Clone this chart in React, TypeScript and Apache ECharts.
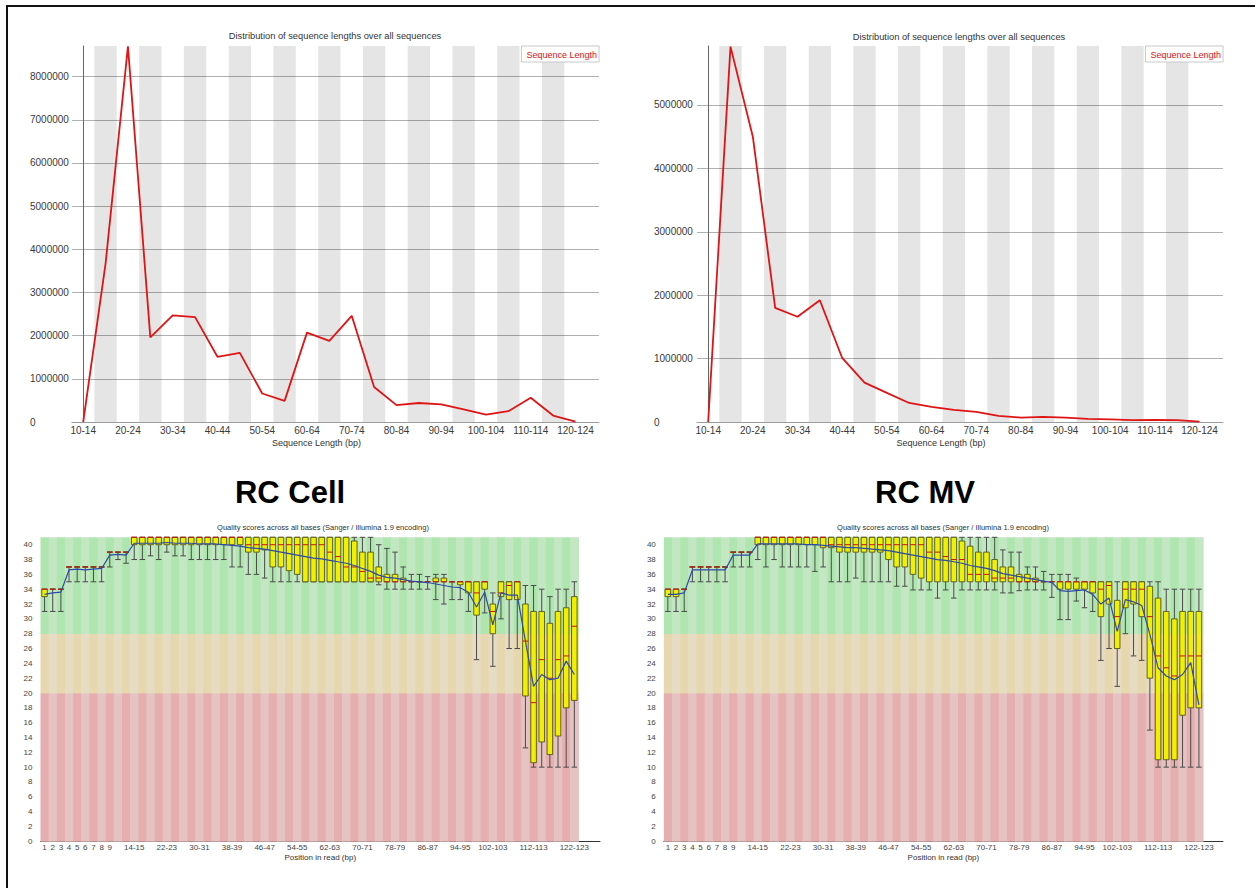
import React, { useEffect, useRef } from 'react';
import * as echarts from 'echarts';

const FONT = '"Liberation Sans", Arial, Helvetica, sans-serif';

// ---------- Sequence length distribution (top charts) ----------
const lengthCategories = [
  '10-14', '15-19', '20-24', '25-29', '30-34', '35-39', '40-44', '45-49', '50-54', '55-59',
  '60-64', '65-69', '70-74', '75-79', '80-84', '85-89', '90-94', '95-99', '100-104', '105-109',
  '110-114', '115-119', '120-124',
];
const cellLengthCounts = [
  0, 3670000, 8700000, 1960000, 2470000, 2430000, 1510000, 1600000, 660000, 490000,
  2070000, 1880000, 2460000, 810000, 390000, 440000, 410000, 290000, 170000, 250000,
  560000, 150000, 10000,
];
const mvLengthCounts = [
  0, 5920000, 4500000, 1800000, 1660000, 1920000, 1010000, 620000, 460000, 300000,
  240000, 190000, 160000, 95000, 70000, 80000, 70000, 50000, 40000, 30000,
  35000, 30000, 5000,
];
const cellLengthMax = 8710000;
const mvLengthMax = 5930000;
const lengthTickStep = 1000000;

// ---------- Per-base quality (bottom charts) ----------
const positionCategories: string[] = [];
for (let p = 1; p <= 9; p++) positionCategories.push(String(p));
for (let p = 10; p <= 122; p += 2) positionCategories.push(p + '-' + (p + 1));
const positionLabelIndices = [0, 1, 2, 3, 4, 5, 6, 7, 8, 11, 15, 19, 23, 27, 31, 35, 39, 43, 47, 51, 55, 60, 65];
const qualityBandLimits = [0, 20, 28, 41];

const cellLow = [
  31, 31, 31, 35, 35, 35, 35, 35, 37, 38, 37.5,
  38, 38, 38.5, 38, 39, 38.5, 38.5, 38, 38, 38, 38, 38, 37, 37,
  36, 36, 35.5, 35, 35, 35, 35, 35, 35, 35, 35, 35, 35, 35, 35, 35,
  34.6, 34, 34, 34, 34, 34, 34, 32.6, 32, 32.6, 32.6,
  31, 24.5, 30.8, 23.6, 30, 26, 26, 12.6, 10, 10, 10, 10, 10, 10,
];
const cellQ1 = [
  33, 34, 34, 37, 37, 37, 37, 37, 39, 39, 39,
  40, 40, 40, 40, 40, 40, 40, 40, 40, 40, 40, 40, 40, 40,
  39, 39, 39.3, 37, 37, 36.5, 36, 35, 35, 35, 35, 35, 35, 35, 35, 35,
  35, 35, 35, 35, 35, 35, 35, 35, 35, 35, 34.6,
  33.5, 30.5, 34, 28, 33, 32.6, 32.6, 19.6, 10.6, 13.4, 11.7, 14.2, 18, 19,
];
const cellMedian = [
  34, 34, 34, 37, 37, 37, 37, 37, 39, 39, 39,
  41, 41, 41, 41, 41, 41, 41, 41, 41, 41, 41, 41, 41, 41,
  40, 40, 40, 40, 40, 40, 40, 40, 40, 40, 39, 38.4, 37, 37, 36.4, 35.5,
  35.5, 35, 35, 35, 35, 35, 35, 35, 35, 35, 35,
  35, 33.5, 35, 31, 33.5, 34.5, 35, 27, 18.7, 24.5, 22, 24.5, 25, 29,
];
const cellQ3 = [
  34, 34, 34, 37, 37, 37, 37, 37, 39, 39, 39,
  41, 41, 41, 41, 41, 41, 41, 41, 41, 41, 41, 41, 41, 41,
  41, 41, 41, 41, 41, 41, 41, 41, 41, 41, 41, 41, 41, 40.5, 39, 39,
  37, 36, 36, 35.5, 35, 35, 35, 35.5, 35.5, 35, 35,
  35, 35, 35, 32, 35, 35, 35, 32, 31, 31, 29.4, 31, 31.5, 33,
];
const cellHigh = [
  34, 34, 34, 37, 37, 37, 37, 37, 39, 39, 39,
  41, 41, 41, 41, 41, 41, 41, 41, 41, 41, 41, 41, 41, 41,
  41, 41, 41, 41, 41, 41, 41, 41, 41, 41, 41, 41, 41, 41, 41, 41,
  40, 39.5, 39, 37, 36, 36, 35.7, 36, 36, 35, 35,
  35, 35, 35, 33.5, 35, 35, 35, 34.5, 34.5, 34, 33, 34, 34, 35,
];
const cellMean = [
  33.3, 33.5, 33.6, 36.6, 36.7, 36.6, 36.7, 36.8, 38.6, 38.7, 38.6,
  40.2, 40.2, 40.2, 40.2, 40.3, 40.2, 40.2, 40.2, 40.1, 40.1, 40.1, 40.0, 39.9, 39.8,
  39.6, 39.5, 39.4, 39.2, 39.0, 38.8, 38.6, 38.4, 38.2, 38.1, 37.9, 37.7, 37.5, 37.2, 36.8, 36.4,
  35.9, 35.6, 35.5, 35.3, 35.1, 35.0, 34.9, 34.7, 34.5, 34.3, 34.2,
  33.6, 31.6, 33.6, 29.2, 33.5, 33.2, 33.2, 27, 20.9, 22.5, 21.8, 22, 24.3, 22.5,
];

const mvLow = [
  31, 31, 31, 35, 35, 35, 35, 35, 37, 37, 37,
  38, 37, 38, 37, 37, 37, 37, 36.4, 37, 35, 35, 35, 35.5, 35,
  35, 35, 35, 34.4, 34.4, 33.9, 33.9, 33.9, 32.8, 33.9, 32.8, 33.9, 33.9, 33.9, 33.9, 33.9,
  33.5, 33.5, 33.8, 33.9, 33.9, 33.9, 32.9, 29.9, 29.9, 32.4, 31.5,
  31, 24.4, 26, 20.9, 28, 25, 24.4, 15, 10, 10, 10, 10, 10, 10,
];
const mvQ1 = [
  33, 33, 34, 37, 37, 37, 37, 37, 39, 39, 39,
  40, 40, 40, 40, 40, 40, 40, 40, 39.6, 39.6, 39, 39, 39, 39,
  39, 39, 38, 37, 37, 36, 35.5, 35, 35, 35, 35, 35, 35, 35, 35, 35,
  35, 35, 35, 35, 35, 35, 35, 34, 34, 34, 34,
  33.5, 30.3, 32, 26, 31.5, 32, 30.3, 22, 11, 11, 11, 17, 18, 18,
];
const mvMedian = [
  34, 34, 34, 37, 37, 37, 37, 37, 39, 39, 39,
  41, 41, 41, 41, 41, 41, 41, 41, 41, 40, 40, 40, 40, 40,
  40, 40, 40, 40, 40, 40, 40, 39, 39, 38.4, 38, 38, 36, 36, 36, 35.5,
  35.5, 35.5, 35, 35, 35, 35, 35, 35, 35, 35, 35,
  35, 34, 34.5, 30.3, 34, 34, 34, 30.3, 25, 23.4, 22.3, 25, 25, 25,
];
const mvQ3 = [
  34, 34, 34, 37, 37, 37, 37, 37, 39, 39, 39,
  41, 41, 41, 41, 41, 41, 41, 41, 41, 41, 41, 41, 41, 41,
  41, 41, 41, 41, 41, 41, 41, 41, 41, 41, 41, 40.5, 39.8, 39, 39, 38,
  37, 37, 36, 36, 35.5, 35, 35, 35, 35, 35, 35,
  35, 35, 35, 32.5, 35, 35, 35, 34.4, 32.8, 31, 30, 31, 31, 31,
];
const mvHigh = [
  34, 34, 34, 37, 37, 37, 37, 37, 39, 39, 39,
  41, 41, 41, 41, 41, 41, 41, 41, 41, 41, 41, 41, 41, 41,
  41, 41, 41, 41, 41, 41, 41, 41, 41, 41, 41, 41, 41, 41, 41, 41,
  39.3, 39, 39, 37, 37, 36.4, 36, 36, 36, 35.5, 35,
  35, 35, 35, 35, 35, 35, 35, 35, 35, 34, 34, 34, 34, 34,
];
const mvMean = [
  33.3, 33.3, 33.5, 36.6, 36.6, 36.6, 36.6, 36.6, 38.6, 38.6, 38.6,
  40.1, 40.1, 40.1, 40.1, 40.1, 40.1, 40.0, 40.0, 39.9, 39.8, 39.7, 39.6, 39.6, 39.5,
  39.4, 39.3, 39.2, 39.0, 38.8, 38.6, 38.4, 38.2, 38.0, 37.9, 37.7, 37.5, 37.2, 37.0, 36.8, 36.5,
  36.1, 35.9, 35.7, 35.5, 35.3, 35.1, 34.9, 33.8, 33.7, 33.8, 33.9,
  33.3, 32, 32.8, 28.3, 32.6, 32.3, 31.8, 27.9, 23.4, 22.3, 21.8, 22.5, 24.1, 18.4,
];

// ---------- helpers ----------
function lengthXAxis(gridIndex: number) {
  return {
    type: 'value', gridIndex, min: -0.5, max: 23.05, interval: 0.5,
    axisLine: { show: true, lineStyle: { color: '#9a9a9a', width: 1 } },
    axisTick: { show: false },
    splitLine: { show: false },
    axisLabel: {
      margin: 3, fontSize: 10, color: '#3a3a3a', fontFamily: FONT,
      formatter: (v: number) => {
        const r = Math.round(v);
        return Math.abs(v - r) < 1e-6 && r % 2 === 0 && r >= 0 && r < lengthCategories.length ? lengthCategories[r] : '';
      },
    },
    name: 'Sequence Length (bp)', nameLocation: 'middle', nameGap: 16,
    nameTextStyle: { fontSize: 9, color: '#333', fontFamily: FONT, padding: [0, 38, 0, 0] },
  };
}

function lengthYAxis(gridIndex: number, max: number, margin: number) {
  return {
    type: 'value', gridIndex, min: 0, max, interval: lengthTickStep,
    axisLine: { show: true, lineStyle: { color: '#666', width: 1 } },
    axisTick: { show: false },
    splitLine: { show: true, showMinLine: false, showMaxLine: false, lineStyle: { color: '#b0b0b0', width: 1 } },
    axisLabel: {
      showMaxLabel: false, align: 'left', margin, fontSize: 10, color: '#3a3a3a', fontFamily: FONT,
      formatter: (v: number) => String(v),
    },
  };
}

function positionXAxis(gridIndex: number, max: number) {
  return {
    type: 'value', gridIndex, min: -0.5, max, interval: 0.5,
    axisLine: { show: true, onZero: false, lineStyle: { color: '#333', width: 1 } },
    axisTick: { show: false },
    splitLine: { show: false },
    axisLabel: {
      margin: 2, fontSize: 8, color: '#444', fontFamily: FONT,
      formatter: (v: number) => {
        const r = Math.round(v);
        return Math.abs(v - r) < 1e-6 && positionLabelIndices.indexOf(r) >= 0 ? positionCategories[r] : '';
      },
    },
    name: 'Position in read (bp)', nameLocation: 'middle', nameGap: 12,
    nameTextStyle: { fontSize: 8, color: '#333', fontFamily: FONT },
  };
}

function positionYAxis(gridIndex: number) {
  return {
    type: 'value', gridIndex, min: 0, max: qualityBandLimits[3], interval: 2,
    axisLine: { show: false }, axisTick: { show: false }, splitLine: { show: false },
    axisLabel: { showMaxLabel: false, margin: 8, fontSize: 8, color: '#444', fontFamily: FONT },
  };
}

const bandColors = [
  ['rgb(230,175,175)', 'rgb(230,195,195)'],
  ['rgb(230,215,175)', 'rgb(230,220,195)'],
  ['rgb(175,230,175)', 'rgb(195,230,195)'],
];

function bgRenderItem(params: any, api: any) {
  const i = api.value(0);
  const w = api.size([1, 0])[0];
  const x = api.coord([i, 0])[0] - w / 2;
  const children: any[] = [];
  for (let b = 0; b < 3; b++) {
    const yBottom = api.coord([i, qualityBandLimits[b]])[1];
    const yTop = api.coord([i, qualityBandLimits[b + 1]])[1];
    children.push({
      type: 'rect',
      shape: { x, y: yTop, width: w + 0.6, height: yBottom - yTop + 0.4 },
      style: { fill: bandColors[b][i % 2] },
    });
  }
  return { type: 'group', children };
}

function boxRenderItem(params: any, api: any) {
  const i = api.value(0);
  const lo = api.value(1), q1 = api.value(2), md = api.value(3), q3 = api.value(4), hi = api.value(5);
  const unit = api.size([1, 0])[0];
  const half = (unit * 0.68) / 2;
  const cx = api.coord([i, md])[0];
  const yLo = api.coord([i, lo])[1];
  const yQ1 = api.coord([i, q1])[1];
  const yMd = api.coord([i, md])[1];
  const yQ3 = api.coord([i, q3])[1];
  const yHi = api.coord([i, hi])[1];
  const whisker = { stroke: '#4a4a4a', lineWidth: 1 };
  return {
    type: 'group',
    children: [
      { type: 'line', shape: { x1: cx, y1: yHi, x2: cx, y2: yQ3 }, style: whisker },
      { type: 'line', shape: { x1: cx, y1: yQ1, x2: cx, y2: yLo }, style: whisker },
      { type: 'line', shape: { x1: cx - half, y1: yHi, x2: cx + half, y2: yHi }, style: whisker },
      { type: 'line', shape: { x1: cx - half, y1: yLo, x2: cx + half, y2: yLo }, style: whisker },
      { type: 'rect', shape: { x: cx - half, y: yQ3, width: half * 2, height: yQ1 - yQ3 }, style: { fill: '#f0f000', stroke: '#55551a', lineWidth: 0.9 } },
      { type: 'line', shape: { x1: cx - half, y1: yMd, x2: cx + half, y2: yMd }, style: { stroke: '#d01010', lineWidth: 1 } },
    ],
  };
}

function qualitySeries(idx: number, low: number[], q1: number[], med: number[], q3: number[], high: number[], mean: number[]) {
  return [
    {
      type: 'custom', xAxisIndex: idx, yAxisIndex: idx, z: 1, silent: true,
      renderItem: bgRenderItem,
      data: positionCategories.map((_, i) => [i, 0, qualityBandLimits[3]]),
      encode: { x: 0, y: [1, 2] },
    },
    {
      type: 'custom', xAxisIndex: idx, yAxisIndex: idx, z: 2, silent: true,
      renderItem: boxRenderItem,
      data: positionCategories.map((_, i) => [i, low[i], q1[i], med[i], q3[i], high[i]]),
      encode: { x: 0, y: [1, 2, 3, 4, 5] },
    },
    {
      type: 'line', xAxisIndex: idx, yAxisIndex: idx, z: 3, silent: true,
      showSymbol: false, symbol: 'none',
      lineStyle: { color: '#2c4aa8', width: 1.2 },
      data: mean.map((m, i) => [i, m]),
    },
  ];
}

function lengthSeries(idx: number, values: number[]) {
  const stripes = lengthCategories
    .map((_, i) => (i % 2 === 1 ? [{ xAxis: i - 0.5 }, { xAxis: i + 0.5 }] : null))
    .filter(Boolean);
  return {
    name: 'Sequence Length', type: 'line', xAxisIndex: idx, yAxisIndex: idx,
    showSymbol: false, symbol: 'none',
    lineStyle: { color: '#e01414', width: 1.8 },
    itemStyle: { color: '#e01414' },
    data: values.map((v, i) => [i, v]),
    markArea: { silent: true, itemStyle: { color: 'rgba(0,0,0,0.1)' }, data: stripes },
  };
}

function legendAt(right: number) {
  return {
    data: ['Sequence Length'], top: 46, right, icon: 'none', itemWidth: 0, itemHeight: 0, itemGap: 0,
    selectedMode: false,
    textStyle: { color: '#e01414', fontSize: 9, fontFamily: FONT },
    backgroundColor: '#ffffff', borderColor: '#c8c8c8', borderWidth: 1, borderRadius: 0,
    padding: [4, 2, 3, 0],
  };
}

function txt(text: string, x: number, y: number, fontSize: number, extra: any = {}) {
  return {
    type: 'text', x, y, silent: true, z: 10,
    style: { text, fontSize, fontFamily: FONT, fill: '#333', align: 'center', verticalAlign: 'middle', ...extra },
  };
}

export default function App() {
  const ref = useRef<HTMLDivElement>(null);
  useEffect(() => {
    if (!ref.current) return;
    const chart = echarts.init(ref.current, undefined, { renderer: 'svg' });
    const option: any = {
      animation: false,
      backgroundColor: '#ffffff',
      grid: [
        { left: 72, top: 46, width: 527, height: 376 },
        { left: 697, top: 46, width: 526, height: 376 },
        { left: 40.5, top: 537.3, width: 559.5, height: 304 },
        { left: 663.8, top: 537.3, width: 559.2, height: 304 },
      ],
      xAxis: [lengthXAxis(0), lengthXAxis(1), positionXAxis(2, 68.15), positionXAxis(3, 67.95)],
      yAxis: [
        lengthYAxis(0, cellLengthMax, 42),
        lengthYAxis(1, mvLengthMax, 43),
        positionYAxis(2),
        positionYAxis(3),
      ],
      legend: [legendAt(656), legendAt(32)],
      series: [
        lengthSeries(0, cellLengthCounts),
        lengthSeries(1, mvLengthCounts),
        ...qualitySeries(2, cellLow, cellQ1, cellMedian, cellQ3, cellHigh, cellMean),
        ...qualitySeries(3, mvLow, mvQ1, mvMedian, mvQ3, mvHigh, mvMean),
      ],
      graphic: [
        { type: 'rect', silent: true, shape: { x: 6, y: 5, width: 1249, height: 2 }, style: { fill: '#111' } },
        { type: 'rect', silent: true, shape: { x: 6, y: 5, width: 2, height: 883 }, style: { fill: '#111' } },
        txt('Distribution of sequence lengths over all sequences', 335, 36, 9.3),
        txt('Distribution of sequence lengths over all sequences', 959, 37, 9.3),
        txt('RC Cell', 290, 492, 31, { fontWeight: 'bold', fill: '#000' }),
        txt('RC MV', 925, 492, 31, { fontWeight: 'bold', fill: '#000' }),
        txt('Quality scores across all bases (Sanger / Illumina 1.9 encoding)', 323, 527, 7.5),
        txt('Quality scores across all bases (Sanger / Illumina 1.9 encoding)', 943, 527, 7.5),
      ],
    };
    chart.setOption(option);
    return () => chart.dispose();
  }, []);
  return (
    <div
      ref={ref}
      style={{ position: 'fixed', left: 0, top: 0, width: 1255, height: 888, background: '#fff' }}
    />
  );
}
